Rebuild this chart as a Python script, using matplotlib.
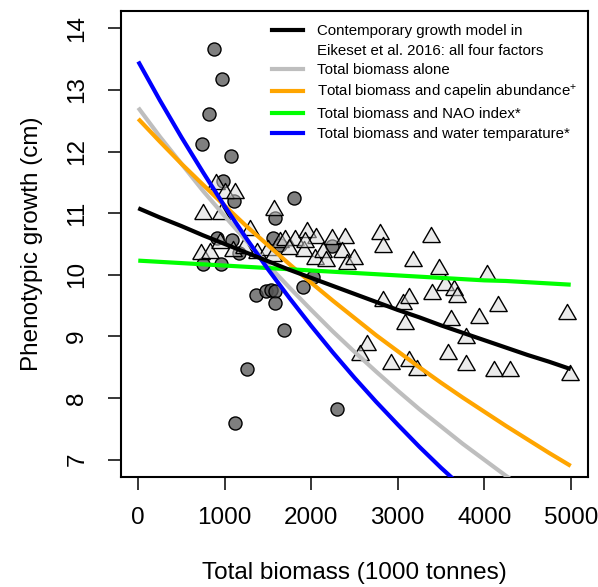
import numpy as np
import matplotlib
matplotlib.use("Agg")
import matplotlib.pyplot as plt
from matplotlib.lines import Line2D

plt.rcParams['font.family'] = ['Liberation Sans', 'DejaVu Sans']
plt.rcParams['mathtext.fontset'] = 'custom'
plt.rcParams['mathtext.rm'] = 'Liberation Sans'
plt.rcParams['mathtext.it'] = 'Liberation Sans'

# ---- data: observed points ----
circle_x = [878, 970, 820, 739, 1074, 982, 1109, 1801, 1582, 912, 1085, 1559, 1640,
            1160, 2240, 2021, 1905, 1363, 1478, 1530, 1582, 1576, 1686, 1259, 1120,
            2298, 751, 959]
circle_y = [13.67, 13.17, 12.61, 12.12, 11.93, 11.52, 11.19, 11.24, 10.92, 10.59, 10.57,
            10.60, 10.48, 10.36, 10.47, 9.97, 9.80, 9.68, 9.73, 9.76, 9.73, 9.55, 9.11,
            8.47, 7.59, 7.83, 10.17, 10.17]

tri_x = [750, 960, 895, 1000, 1115, 1575, 1290, 720, 825, 950, 1100, 1220, 1374, 1500,
         1560, 1640, 1700, 1810, 1740, 1952, 2060, 1915, 1925, 2044, 2136, 2175, 2240,
         2396, 2356, 2419, 2500, 2794, 2835, 3176, 3383, 3476, 3551, 3649, 3684, 4030,
         2829, 3060, 3135, 3395, 4157, 3083, 3620, 3938, 3794, 4960, 2644, 2564, 2927,
         3129, 3222, 3580, 3794, 4111, 4296, 4988]
tri_y = [10.98, 10.99, 11.48, 11.32, 11.32, 11.05, 10.73, 10.33, 10.35, 10.51, 10.38,
         10.44, 10.35, 10.40, 10.30, 10.54, 10.57, 10.57, 10.42, 10.70, 10.60, 10.38,
         10.54, 10.25, 10.37, 10.22, 10.58, 10.59, 10.37, 10.18, 10.25, 10.66, 10.45,
         10.23, 10.62, 10.10, 9.84, 9.75, 9.64, 10.00, 9.58, 9.53, 9.63, 9.69, 9.50,
         9.20, 9.27, 9.30, 8.97, 9.37, 8.86, 8.70, 8.55, 8.60, 8.45, 8.71, 8.54, 8.44,
         8.44, 8.37]

# ---- data: model curves (values read every 250 thousand tonnes) ----
curve_x = [0, 250, 500, 750, 1000, 1250, 1500, 1750, 2000, 2250, 2500, 2750, 3000,
           3250, 3500, 3750, 4000, 4250, 4500, 4750, 5000]
model_all = [11.08, 10.93, 10.79, 10.64, 10.50, 10.36, 10.22, 10.08, 9.95, 9.82, 9.69,
             9.56, 9.43, 9.31, 9.18, 9.06, 8.94, 8.82, 8.70, 8.59, 8.47]
model_biomass = [12.71, 12.24, 11.80, 11.36, 10.95, 10.55, 10.16, 9.79, 9.43, 9.08, 8.75,
                 8.43, 8.12, 7.82, 7.54, 7.26, 7.00, 6.74, 6.49, 6.26, 6.03]
model_capelin = [12.53, 12.16, 11.80, 11.46, 11.12, 10.79, 10.48, 10.17, 9.87, 9.58, 9.30,
                 9.02, 8.76, 8.50, 8.25, 8.01, 7.78, 7.55, 7.33, 7.11, 6.90]
model_nao = [10.23, 10.21, 10.19, 10.17, 10.15, 10.13, 10.11, 10.09, 10.07, 10.05, 10.03,
             10.01, 9.99, 9.97, 9.95, 9.93, 9.91, 9.90, 9.88, 9.86, 9.84]
model_temp = [13.46, 12.83, 12.23, 11.66, 11.11, 10.59, 10.09, 9.62, 9.17, 8.74, 8.33,
              7.94, 7.57, 7.21, 6.87, 6.55, 6.24, 5.95, 5.67, 5.40, 5.15]

x_ticks = [0, 1000, 2000, 3000, 4000, 5000]
y_ticks = [7, 8, 9, 10, 11, 12, 13, 14]

legend_labels = ["Contemporary growth model in",
                 "Eikeset et al. 2016: all four factors",
                 "Total biomass alone",
                 "Total biomass and capelin abundance$^{+}$",
                 "Total biomass and NAO index*",
                 "Total biomass and water temparature*"]

fig = plt.figure(figsize=(5.98, 5.87), dpi=100)
ax = fig.add_axes([0.2023, 0.1874, 0.781, 0.7939])

tri_marker = [(-0.866, -0.5), (0.866, -0.5), (0.0, 1.0), (-0.866, -0.5)]

ax.plot(circle_x, circle_y, linestyle='none', marker='o', markersize=9.4,
        markerfacecolor=(0.33, 0.33, 0.33, 0.75), markeredgecolor='black',
        markeredgewidth=1.0, zorder=2)
ax.plot(tri_x, tri_y, linestyle='none', marker=tri_marker, markersize=14.5,
        markerfacecolor=(0.85, 0.85, 0.85, 0.5), markeredgecolor='black',
        markeredgewidth=1.0, zorder=3)

lw = 3.0
ax.plot(curve_x, model_biomass, color='#bebebe', lw=lw, zorder=4, solid_capstyle='butt')
ax.plot(curve_x, model_capelin, color='#ffa500', lw=lw, zorder=5, solid_capstyle='butt')
ax.plot(curve_x, model_nao, color='#00ff00', lw=lw, zorder=6, solid_capstyle='butt')
ax.plot(curve_x, model_temp, color='#0000ff', lw=lw, zorder=7, solid_capstyle='butt')
ax.plot(curve_x, model_all, color='black', lw=lw, zorder=8, solid_capstyle='butt')

ax.set_xlim(-200, 5200)
ax.set_ylim(6.72, 14.28)
ax.set_xticks(x_ticks)
ax.set_yticks(y_ticks)
ax.set_xticklabels([str(v) for v in x_ticks])
ax.set_yticklabels([str(v) for v in y_ticks], rotation=90, ha='center', va='center')

for s in ax.spines.values():
    s.set_linewidth(1.5)
ax.tick_params(axis='both', direction='out', length=9.4, width=1.1,
               labelsize=17.5, colors='black')
ax.tick_params(axis='x', pad=12)
ax.tick_params(axis='y', pad=22)

ax.set_xlabel("Total biomass (1000 tonnes)", fontsize=17.5, va='center')
ax.xaxis.set_label_coords(0.5, -0.207)
ax.set_ylabel("Phenotypic growth (cm)", fontsize=17.5, va='center')
ax.yaxis.set_label_coords(-0.191, 0.5)

handles = [Line2D([], [], color='black', lw=lw),
           Line2D([], [], color='none', lw=lw),
           Line2D([], [], color='#bebebe', lw=lw),
           Line2D([], [], color='#ffa500', lw=lw),
           Line2D([], [], color='#00ff00', lw=lw),
           Line2D([], [], color='#0000ff', lw=lw)]
leg = ax.legend(handles, legend_labels, loc='upper left', bbox_to_anchor=(0.323, 0.972),
                frameon=False, fontsize=10.8, handlelength=2.07, handletextpad=0.93,
                labelspacing=0.37, borderpad=0, borderaxespad=0)

fig.savefig("out.png", dpi=100)
